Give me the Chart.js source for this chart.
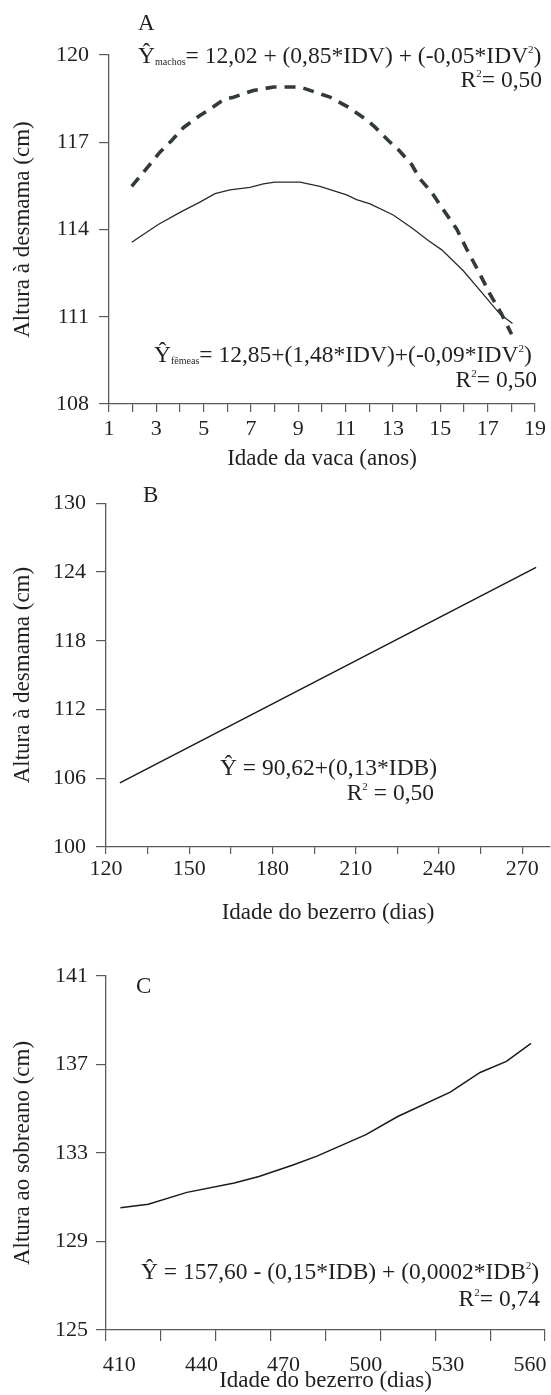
<!DOCTYPE html>
<html>
<head>
<meta charset="utf-8">
<script src="https://cdn.jsdelivr.net/npm/chart.js@4/dist/chart.umd.min.js"></script>
<style>
  html, body { margin: 0; padding: 0; background: #ffffff; }
  #wrap { position: relative; width: 551px; height: 1395px; }
  canvas { position: absolute; left: 0; }
</style>
</head>
<body>
<div id="wrap">
  <canvas id="cA" width="551" height="480" style="top:0px;width:551px;height:480px"></canvas>
  <canvas id="cB" width="551" height="450" style="top:480px;width:551px;height:450px"></canvas>
  <canvas id="cC" width="551" height="465" style="top:930px;width:551px;height:465px"></canvas>
</div>
<script>
// ---------------- DATA ----------------
// Panel A: Idade da vaca (anos) vs Altura à desmama (cm)
const machosX = [1.96, 2.66, 3.15, 3.65, 4.14, 4.84, 5.20, 5.83, 6.26, 7.10, 7.95, 9.07, 9.91, 10.34, 11.11, 11.89, 12.24, 12.80, 13.29, 13.79, 14.14, 14.63, 15.20, 15.69, 16.11, 16.60, 17.10, 17.59, 18.01];
const machosY = [115.48, 116.17, 116.66, 117.06, 117.50, 117.92, 118.10, 118.46, 118.55, 118.78, 118.90, 118.90, 118.67, 118.55, 118.21, 117.77, 117.52, 117.06, 116.69, 116.23, 115.74, 115.28, 114.59, 114.02, 113.33, 112.58, 111.78, 111.09, 110.40];
const femeasX = [1.96, 3.08, 4.00, 4.84, 5.48, 6.11, 6.96, 7.52, 8.01, 9.07, 9.91, 11.04, 11.46, 12.03, 13.01, 13.86, 14.49, 15.06, 15.97, 16.81, 17.52, 18.05];
const femeasY = [113.56, 114.17, 114.59, 114.94, 115.23, 115.36, 115.45, 115.57, 115.63, 115.63, 115.48, 115.19, 115.03, 114.88, 114.50, 114.02, 113.62, 113.30, 112.58, 111.78, 111.09, 110.77];
const xTicksA = [1,2,3,4,5,6,7,8,9,10,11,12,13,14,15,16,17,18,19];
const xLabelsA = [1,3,5,7,9,11,13,15,17,19];
const yTicksA = [108, 111, 114, 117, 120];

// Panel B: Idade do bezerro (dias) vs Altura à desmama (cm)
const bX = [125, 275];
const bY = [105.6, 124.4];
const xTicksB = [120,135,150,165,180,195,210,225,240,255,270];
const xLabelsB = [120,150,180,210,240,270];
const yTicksB = [100, 106, 112, 118, 124, 130];

// Panel C: Idade do bezerro (dias) vs Altura ao sobreano (cm)
const cX = [410.4, 420.6, 434.7, 452.0, 461.0, 473.2, 482.2, 500.1, 511.7, 530.9, 541.8, 551.4, 560.4];
const cY = [130.53, 130.68, 131.22, 131.64, 131.94, 132.45, 132.86, 133.83, 134.65, 135.75, 136.64, 137.14, 137.95];
const xLabelsC = [410, 440, 470, 500, 530, 560];
const xTickMarksC = [0,1,2,3,4,5,6,7,8];
const yTicksC = [125, 129, 133, 137, 141];

// ---------------- STYLE ----------------
const FONT = '"Liberation Serif", "Times New Roman", serif';
const TXT = '#231f20';
const AX = '#5a5a5a';
const EQ = 23.5;
const tickFont = { family: FONT, size: 22 };
const titleFont = { family: FONT, size: 23 };

function pts(xs, ys) { return xs.map((x, i) => ({ x: x, y: ys[i] })); }
function fixedTicks(arr) { return s => { s.ticks = arr.map(v => ({ value: v })); }; }

// rich text annotations: segs = [text, size, dy]
const richText = {
  id: 'richText',
  afterDraw(chart, args, opts) {
    const ctx = chart.ctx;
    ctx.save();
    ctx.fillStyle = TXT;
    ctx.textBaseline = 'alphabetic';
    ctx.textAlign = 'left';
    (opts.items || []).forEach(it => {
      let w = 0;
      it.segs.forEach(s => { ctx.font = s[1] + 'px ' + FONT; w += ctx.measureText(s[0]).width; });
      let cx = it.align === 'right' ? it.x - w : it.x;
      it.segs.forEach(s => {
        ctx.font = s[1] + 'px ' + FONT;
        ctx.fillText(s[0], cx, it.y + (s[2] || 0));
        cx += ctx.measureText(s[0]).width;
      });
    });
    ctx.restore();
  }
};

function yScale(min, max, ticksArr, title, width, pad) {
  return {
    type: 'linear', position: 'left', min: min, max: max,
    afterBuildTicks: fixedTicks(ticksArr),
    afterFit: s => { s.width = width; },
    ticks: { font: tickFont, color: TXT, padding: pad },
    grid: { drawOnChartArea: false, tickLength: 10, color: AX, lineWidth: 1.2 },
    border: { color: AX, width: 1.3 },
    title: { display: true, text: title, font: titleFont, color: TXT, padding: { top: 9, bottom: 0 } }
  };
}

const baseOpts = {
  responsive: false, animation: false, events: [],
  plugins: { legend: { display: false }, tooltip: { enabled: false } }
};

// ---------------- PANEL A ----------------
new Chart(document.getElementById('cA'), {
  type: 'line',
  data: {
    datasets: [
      { data: pts(machosX, machosY), borderColor: '#323a3a', borderWidth: 3.6, borderDash: [11, 8], pointRadius: 0, tension: 0, fill: false },
      { data: pts(femeasX, femeasY), borderColor: '#2a2a2a', borderWidth: 1.3, pointRadius: 0, tension: 0, fill: false }
    ]
  },
  options: Object.assign({}, baseOpts, {
    layout: { padding: { top: 55, right: 16, left: 0, bottom: 0 } },
    scales: {
      x: {
        type: 'linear', position: 'bottom', min: 1, max: 19,
        afterBuildTicks: fixedTicks(xTicksA),
        afterFit: s => { s.height = 76; },
        ticks: { font: tickFont, color: TXT, padding: 4, maxRotation: 0, autoSkip: false,
                 callback: v => xLabelsA.includes(v) ? String(v) : '' },
        grid: { drawOnChartArea: false, tickLength: 8, color: AX, lineWidth: 1.2 },
        border: { color: AX, width: 1.3 },
        title: { display: true, text: 'Idade da vaca (anos)', font: titleFont, color: TXT, padding: { top: 0, bottom: 7 } }
      },
      y: yScale(108, 120, yTicksA, 'Altura à desmama (cm)', 109, 10)
    },
    plugins: Object.assign({}, baseOpts.plugins, {
      richText: { items: [
        { x: 138, y: 30, segs: [['A', 23]] },
        { x: 138, y: 63, segs: [['Ŷ', EQ], ['machos', 10, 2], ['= 12,02 + (0,85*IDV) + (-0,05*IDV', EQ], ['2', 11, -10], [')', EQ]] },
        { x: 542, y: 87, align: 'right', segs: [['R', EQ], ['2', 11, -10], ['= 0,50', EQ]] },
        { x: 154, y: 362, segs: [['Ŷ', EQ], ['fêmeas', 10, 2], ['= 12,85+(1,48*IDV)+(-0,09*IDV', EQ], ['2', 11, -10], [')', EQ]] },
        { x: 537, y: 387, align: 'right', segs: [['R', EQ], ['2', 11, -10], ['= 0,50', EQ]] }
      ] }
    })
  }),
  plugins: [richText]
});

// ---------------- PANEL B ----------------
new Chart(document.getElementById('cB'), {
  type: 'line',
  data: {
    datasets: [
      { data: pts(bX, bY), borderColor: '#1a1a1a', borderWidth: 1.5, pointRadius: 0, tension: 0, fill: false }
    ]
  },
  options: Object.assign({}, baseOpts, {
    layout: { padding: { top: 19, right: 1, left: 0, bottom: 0 } },
    scales: {
      x: {
        type: 'linear', position: 'bottom', min: 120, max: 280,
        afterBuildTicks: fixedTicks(xTicksB),
        afterFit: s => { s.height = 83; },
        ticks: { font: tickFont, color: TXT, padding: 2, maxRotation: 0, autoSkip: false,
                 callback: v => xLabelsB.includes(v) ? String(v) : '' },
        grid: { drawOnChartArea: false, tickLength: 7, color: AX, lineWidth: 1.2 },
        border: { color: AX, width: 1.3 },
        title: { display: true, text: 'Idade do bezerro (dias)', font: titleFont, color: TXT, padding: { top: 0, bottom: 3 } }
      },
      y: yScale(100, 130, yTicksB, 'Altura à desmama (cm)', 106, 10)
    },
    plugins: Object.assign({}, baseOpts.plugins, {
      richText: { items: [
        { x: 143, y: 22, segs: [['B', 23]] },
        { x: 220, y: 295, segs: [['Ŷ = 90,62+(0,13*IDB)', EQ]] },
        { x: 434, y: 320, align: 'right', segs: [['R', EQ], ['2', 11, -10], [' = 0,50', EQ]] }
      ] }
    })
  }),
  plugins: [richText]
});

// ---------------- PANEL C ----------------
new Chart(document.getElementById('cC'), {
  type: 'line',
  data: {
    datasets: [
      { data: pts(cX, cY), xAxisID: 'x', borderColor: '#1a1a1a', borderWidth: 1.5, pointRadius: 0, tension: 0, fill: false }
    ]
  },
  options: Object.assign({}, baseOpts, {
    layout: { padding: { top: 46, right: 6, left: 0, bottom: 0 } },
    scales: {
      xt: {
        type: 'linear', position: 'bottom', weight: 0, min: 0, max: 8,
        afterBuildTicks: fixedTicks(xTickMarksC),
        afterFit: s => { s.height = 11; },
        ticks: { display: false },
        grid: { drawOnChartArea: false, tickLength: 11, color: AX, lineWidth: 1.2 },
        border: { color: AX, width: 1.3 }
      },
      x: {
        type: 'linear', position: 'bottom', weight: 1, min: 405.15, max: 565.5,
        afterBuildTicks: fixedTicks(xLabelsC),
        afterFit: s => { s.height = 54; },
        ticks: { font: tickFont, color: TXT, padding: 3, maxRotation: 0, autoSkip: false },
        grid: { display: false },
        border: { display: false },
        title: { display: true, text: 'Idade do bezerro (dias)', font: titleFont, color: TXT, padding: { top: 0, bottom: 0 } }
      },
      y: yScale(125, 141, yTicksC, 'Altura ao sobreano (cm)', 106, 8)
    },
    plugins: Object.assign({}, baseOpts.plugins, {
      richText: { items: [
        { x: 136, y: 63, segs: [['C', 23]] },
        { x: 141, y: 349, segs: [['Ŷ = 157,60 - (0,15*IDB) + (0,0002*IDB', EQ], ['2', 11, -10], [')', EQ]] },
        { x: 540, y: 376, align: 'right', segs: [['R', EQ], ['2', 11, -10], ['= 0,74', EQ]] }
      ] }
    })
  }),
  plugins: [richText]
});
</script>
</body>
</html>
